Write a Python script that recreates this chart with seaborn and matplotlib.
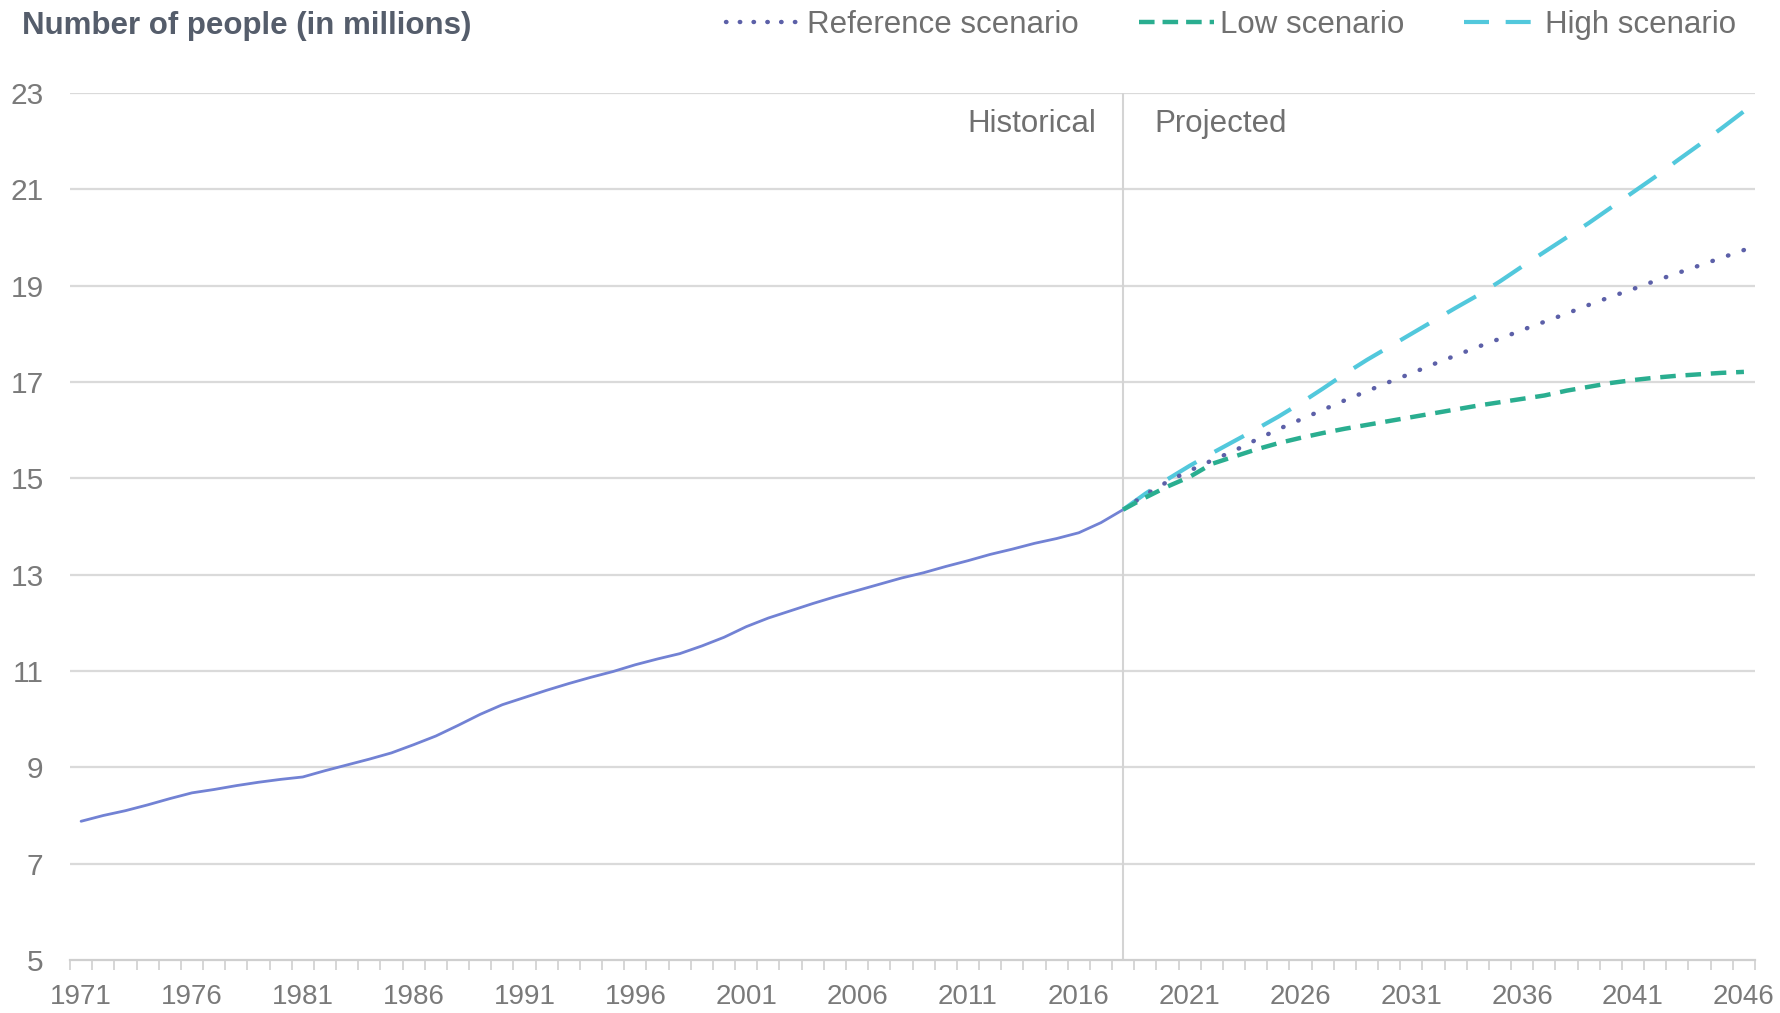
import numpy as np
import pandas as pd
import matplotlib
matplotlib.use("Agg")
import matplotlib.pyplot as plt
from matplotlib.lines import Line2D
import seaborn as sns

hist_years = list(range(1971, 2019))
hist_values = [7.88, 8.00, 8.10, 8.22, 8.35, 8.47, 8.54, 8.62, 8.69, 8.75,
               8.80, 8.93, 9.05, 9.17, 9.30, 9.47, 9.65, 9.87, 10.10, 10.30,
               10.45, 10.60, 10.74, 10.87, 10.99, 11.13, 11.25, 11.36, 11.52, 11.70,
               11.92, 12.10, 12.25, 12.40, 12.54, 12.67, 12.80, 12.93, 13.04, 13.17,
               13.29, 13.42, 13.53, 13.65, 13.75, 13.87, 14.08, 14.35]

proj_years = list(range(2018, 2047))
ref_values = [14.35, 14.66, 14.93, 15.16, 15.37, 15.57, 15.80, 16.02, 16.22, 16.42,
              16.62, 16.81, 17.00, 17.18, 17.37, 17.55, 17.73, 17.90, 18.08, 18.25,
              18.42, 18.60, 18.77, 18.93, 19.10, 19.26, 19.42, 19.58, 19.74]
low_values = [14.35, 14.60, 14.83, 15.03, 15.30, 15.45, 15.60, 15.73, 15.84, 15.94,
              16.03, 16.11, 16.19, 16.27, 16.35, 16.43, 16.51, 16.58, 16.65, 16.72,
              16.82, 16.90, 16.98, 17.04, 17.09, 17.13, 17.16, 17.19, 17.21]
high_values = [14.35, 14.68, 14.98, 15.26, 15.52, 15.77, 16.02, 16.28, 16.56, 16.86,
               17.17, 17.46, 17.73, 18.00, 18.27, 18.54, 18.80, 19.09, 19.40, 19.70,
               20.00, 20.30, 20.62, 20.94, 21.26, 21.60, 21.93, 22.27, 22.62]

scenario_names = ["Reference scenario", "Low scenario", "High scenario"]
y_ticks = list(range(5, 24, 2))
x_tick_years = list(range(1971, 2047, 5))

HIST_C = "#7282d4"
REF_C = "#5c60a8"
LOW_C = "#2aae90"
HIGH_C = "#52c8dc"
GRID_C = "#dadada"
TEXT_C = "#7a7a7a"

sns.set_theme(style="white")
plt.rcParams["font.family"] = ["Liberation Sans", "DejaVu Sans"]

hist_df = pd.DataFrame({"year": hist_years, "value": hist_values})
proj_df = pd.DataFrame({"year": proj_years, "ref": ref_values, "low": low_values, "high": high_values})

fig = plt.figure(figsize=(17.8, 10.13), dpi=100)
ax = fig.add_axes([70 / 1780, 1 - 960 / 1013, (1755 - 70) / 1780, (960 - 93) / 1013])

for y in y_ticks[1:]:
    ax.axhline(y, color=GRID_C, lw=1.6, zorder=0)
ax.axvline(2018, color="#d4d4d4", lw=1.5, zorder=0)

sns.lineplot(data=hist_df, x="year", y="value", ax=ax, color=HIST_C, lw=2.0, legend=False)
l_high = sns.lineplot(data=proj_df, x="year", y="high", ax=ax, color=HIGH_C, lw=3.0, legend=False).lines[-1]
l_high.set_dashes((8, 5))
# drawn from the end backwards so the dot pattern lands on 2046
l_ref = sns.lineplot(data=proj_df.iloc[::-1], x="year", y="ref", ax=ax, sort=False,
                     color=REF_C, lw=3.2, legend=False).lines[-1]
l_ref.set_dashes((0.1, 3.6))
l_ref.set_dash_capstyle("round")
l_low = sns.lineplot(data=proj_df, x="year", y="low", ax=ax, color=LOW_C, lw=3.2, legend=False).lines[-1]
l_low.set_dashes((3.5, 2.2))

ax.set_xlim(1970.5, 2046.5)
ax.set_ylim(5, 23)
ax.set_yticks(y_ticks)
ax.set_xticks(x_tick_years)
ax.set_xticks(np.arange(1970.5, 2047, 1), minor=True)
ax.set_xlabel("")
ax.set_ylabel("")
for s in ["left", "right", "top"]:
    ax.spines[s].set_visible(False)
ax.spines["bottom"].set_color("#cfcfcf")
ax.spines["bottom"].set_linewidth(1.6)
ax.tick_params(axis="y", length=0, pad=19, labelsize=21.5, labelcolor=TEXT_C)
ax.tick_params(axis="x", which="major", length=0, pad=17, labelsize=20, labelcolor=TEXT_C)
ax.tick_params(axis="x", which="minor", length=7, width=1.2, color="#cfcfcf", bottom=True)

ax.text(2016.8, 22.35, "Historical", ha="right", va="center", fontsize=22.5, color="#707070")
ax.text(2019.4, 22.35, "Projected", ha="left", va="center", fontsize=22.5, color="#707070")

fig.text(22 / 1780, 1 - 26 / 1013, "Number of people (in millions)", ha="left", va="center",
         fontsize=22.5, fontweight="bold", color="#555d6b")

handles = [
    Line2D([0], [0], color=REF_C, lw=3.2, dashes=(0.1, 3.0), dash_capstyle="round"),
    Line2D([0], [0], color=LOW_C, lw=3.2, dashes=(3.5, 1.8)),
    Line2D([0], [0], color=HIGH_C, lw=3.0, dashes=(6, 4)),
]
fig.legend(handles, scenario_names, loc="center right", bbox_to_anchor=(1764 / 1780, 1 - 25 / 1013),
           ncol=3, frameon=False, fontsize=22.5, handlelength=2.4, handletextpad=0.2,
           columnspacing=1.9, labelcolor="#707070")

fig.savefig("out.png", dpi=100)
